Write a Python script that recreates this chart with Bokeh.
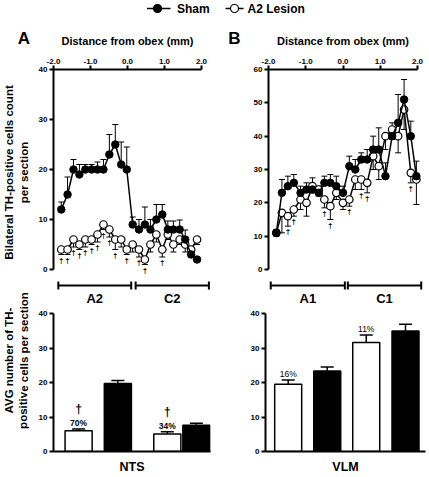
from bokeh.plotting import figure
from bokeh.layouts import column, row
from bokeh.models import (ColumnDataSource, Range1d, FixedTicker, NumeralTickFormatter,
                          Whisker, TeeHead)
from bokeh.core.properties import value
from bokeh.embed import file_html
from bokeh.resources import INLINE

# ---------------- data ----------------
# Panel A : NTS (A2 / C2)
a_distance_mm = [-1.79, -1.62, -1.46, -1.30, -1.14, -0.97, -0.81, -0.65, -0.49, -0.33, -0.17, -0.02,
                 0.14, 0.31, 0.47, 0.62, 0.78, 0.94, 1.09, 1.24, 1.41, 1.56, 1.72, 1.88]
a_sham = [12, 15, 20, 19, 20, 20, 20, 20, 23, 25, 21, 20, 9, 8, 9, 8, 10, 11, 8, 8, 8, 6, 3, 2]
a_sham_err = [1.5, 3.5, 2, 2, 1, 1, 1.5, 2, 4, 4, 4.5, 4.5, 1.5, 2, 3.5, 2, 3, 2, 1.7, 1.7, 1.9, 1.9, 1, 0.5]
a_lesion = [4, 4, 6, 5, 6, 6, 7, 9, 8, 6, 6, 4, 5, 4, 2, 5, 7, 4, 7, 5, 6, 5, 4, 6]
a_lesion_err = [1, 1, 1.5, 1, 1.5, 1, 1.5, 1, 1.5, 2, 1.5, 1, 1.5, 1.5, 1, 1.5, 1.5, 1.5, 1, 1.5, 1, 1.5, 1, 1]
a_dagger_idx = [0, 1, 2, 3, 4, 5, 6, 7, 8, 9, 11, 13, 14, 17]
a_regions = ["A2", "C2"]
a_region_start = [-1.87, 0.22]
a_region_end = [0.10, 2.20]

# Panel B : VLM (A1 / C1)
b_distance_mm = [-1.79, -1.64, -1.48, -1.32, -1.14, -0.98, -0.82, -0.65, -0.50, -0.34, -0.18, 0.00,
                 0.17, 0.33, 0.49, 0.65, 0.81, 0.96, 1.14, 1.32, 1.48, 1.64, 1.82, 1.97]
b_sham = [11, 23, 25, 26, 23, 24, 24, 23, 26, 26, 25, 23, 31, 30, 33, 33, 36, 36, 28, 40, 44, 51, 40, 28]
b_sham_err = [1, 4, 3, 2.5, 2, 2, 3.5, 2, 2, 2.5, 3, 2, 3, 3, 2, 3, 4, 6.5, 4, 4, 8.5, 6, 4.5, 4.5]
b_lesion = [11, 17, 16, 18, 21, 20, 25, 24, 21, 19, 23, 20, 21, 27, 27, 26, 34, 31, 40, 42, 40, 48, 29, 27]
b_lesion_err = [1, 6, 3, 2, 3, 4, 2, 2, 2.5, 4, 2, 2, 2, 3, 3, 3, 4, 4, 4, 3, 5, 6, 3, 7.5]
b_dagger_idx = [2, 3, 8, 9, 12, 14, 15, 22]
b_regions = ["A1", "C1"]
b_region_start = [-1.94, 0.13]
b_region_end = [0.05, 2.10]

# Bar charts
nts_regions = ["A2", "C2"]
nts_lesion = [6.0, 5.1]
nts_lesion_err = [0.5, 0.6]
nts_sham = [19.7, 7.6]
nts_sham_err = [0.9, 0.6]
nts_loss_pct = ["70%", "34%"]
nts_signif = ["\u2020", "\u2020"]

vlm_regions = ["A1", "C1"]
vlm_lesion = [19.5, 31.6]
vlm_lesion_err = [1.2, 2.2]
vlm_sham = [23.3, 34.9]
vlm_sham_err = [1.2, 2.0]
vlm_loss_pct = ["16%", "11%"]
vlm_signif = ["", ""]

legend_labels = ["Sham", "A2 Lesion"]
panel_letters = ["A", "B"]
x_title = "Distance from obex (mm)"
top_ylabel = ["Bilateral TH-positive cells count", "per section"]
bot_ylabel = ["AVG number of TH-", "positive cells per section"]

FONT = "Liberation Sans"

# ---------------- layout (page pixels) ----------------
W_TOTAL, H_TOTAL = 428, 476
HEAD_H = 48
TOP_TOP, TOP_FRAME_TOP, TOP_ZERO, TOP_BOTTOM = 48, 69, 269, 305
BOT_TOP, BOT_FRAME_TOP, BOT_ZERO, BOT_BOTTOM = 305, 313, 454, 476
YLAB_W = 31
COL_A = (YLAB_W, 222)
COL_B = (222, W_TOTAL)


def clean(p):
    p.xgrid.visible = False
    p.ygrid.visible = False
    p.outline_line_color = None
    p.background_fill_color = "white"
    p.border_fill_color = "white"


def style_axis(ax):
    ax.axis_line_width = 2
    ax.axis_line_color = "black"
    ax.major_tick_line_width = 2
    ax.major_tick_line_color = "black"
    ax.major_tick_out = 4
    ax.major_tick_in = 0
    ax.minor_tick_out = 0
    ax.minor_tick_in = 0
    ax.major_label_text_font = FONT
    ax.major_label_text_font_style = "bold"
    ax.major_label_text_font_size = "8px"
    ax.major_label_text_color = "black"
    ax.major_label_standoff = 2


def txt(p, xs, ys, texts, size, align="center", angle=0.0, style="bold"):
    p.text(x=xs, y=ys, text=texts, angle=angle, text_align=align, text_baseline="middle",
           text_font=value(FONT), text_font_size=size, text_font_style=style,
           text_color="black")


def line_panel(col, frame_left, frame_right, px_per_mm, ymax,
               dist, sham, sham_err, lesion, lesion_err, dagger_idx,
               regions, reg_start, reg_end):
    c0, c1 = col
    ppu = (TOP_ZERO - TOP_FRAME_TOP) / ymax
    x_end = -2 + (frame_right - frame_left) / px_per_mm
    y_lo = -(TOP_BOTTOM - TOP_ZERO) / ppu

    def yd(ay):
        return (TOP_ZERO - ay) / ppu

    p = figure(width=c1 - c0, height=TOP_BOTTOM - TOP_TOP,
               x_range=Range1d(-2, x_end), y_range=Range1d(y_lo, ymax),
               x_axis_location="above", toolbar_location=None, output_backend="svg",
               min_border_left=frame_left - c0, min_border_right=c1 - frame_right,
               min_border_top=TOP_FRAME_TOP - TOP_TOP, min_border_bottom=0)
    clean(p)
    for ax in p.axis:
        style_axis(ax)
    p.xaxis.bounds = (-2, 2)
    p.xaxis.ticker = FixedTicker(ticks=[-2, -1, 0, 1, 2])
    p.xaxis.formatter = NumeralTickFormatter(format="0.0")
    p.yaxis.bounds = (0, ymax)
    p.yaxis.ticker = FixedTicker(ticks=list(range(0, ymax + 1, 10)))

    les = ColumnDataSource(dict(x=dist, y=lesion,
                                lo=[v - e for v, e in zip(lesion, lesion_err)]))
    sh = ColumnDataSource(dict(x=dist, y=sham,
                               hi=[v + e for v, e in zip(sham, sham_err)]))
    p.add_layout(Whisker(source=les, base="x", upper="y", lower="lo", line_width=1,
                         line_color="black", upper_head=None,
                         lower_head=TeeHead(size=6, line_width=1, line_color="black")))
    p.add_layout(Whisker(source=sh, base="x", upper="hi", lower="y", line_width=1,
                         line_color="black", lower_head=None,
                         upper_head=TeeHead(size=6, line_width=1, line_color="black")))
    p.line("x", "y", source=les, line_color="black", line_width=1.5)
    p.scatter("x", "y", source=les, size=7.5, fill_color="white", line_color="black",
              line_width=1.2)
    p.line("x", "y", source=sh, line_color="black", line_width=1.5)
    p.scatter("x", "y", source=sh, size=7.5, fill_color="black", line_color="black")

    p.text(x=[dist[i] for i in dagger_idx],
           y=[lesion[i] - lesion_err[i] for i in dagger_idx],
           text=["\u2020"] * len(dagger_idx), text_baseline="top", text_align="center",
           y_offset=1, text_font=value(FONT), text_font_size="8px",
           text_font_style="bold", text_color="black")

    # region brackets under the plot
    yb = yd(285)
    tick = 4 / ppu
    n = len(regions)
    p.segment(x0=reg_start, y0=[yb] * n, x1=reg_end, y1=[yb] * n,
              line_color="black", line_width=2)
    ends = list(reg_start) + list(reg_end)
    p.segment(x0=ends, y0=[yb - tick] * len(ends), x1=ends, y1=[yb + tick] * len(ends),
              line_color="black", line_width=2)
    txt(p, [(s + e) / 2 for s, e in zip(reg_start, reg_end)], [yd(297.5)] * n, regions, "13px")
    return p


def bar_panel(col, frame_left, frame_right, slots, bar_w, xlabel,
              lesion, lesion_err, sham, sham_err, pct, signif, pct_style):
    c0, c1 = col
    p = figure(width=c1 - c0, height=BOT_BOTTOM - BOT_TOP,
               x_range=Range1d(0, 4), y_range=Range1d(0, 40),
               toolbar_location=None, output_backend="svg",
               min_border_left=frame_left - c0, min_border_right=c1 - frame_right,
               min_border_top=BOT_FRAME_TOP - BOT_TOP, min_border_bottom=BOT_BOTTOM - BOT_ZERO)
    clean(p)
    for ax in p.axis:
        style_axis(ax)
    p.yaxis.ticker = FixedTicker(ticks=[0, 10, 20, 30, 40])
    p.xaxis.ticker = FixedTicker(ticks=[])
    p.xaxis.major_tick_out = 0
    p.xaxis.axis_label = xlabel
    p.xaxis.axis_label_text_font = FONT
    p.xaxis.axis_label_text_font_style = "bold"
    p.xaxis.axis_label_text_font_size = "12.5px"
    p.xaxis.axis_label_text_color = "black"
    p.xaxis.axis_label_standoff = 8

    les_x = [slots[0], slots[2]]
    sh_x = [slots[1], slots[3]]
    les = ColumnDataSource(dict(x=les_x, top=lesion,
                                hi=[v + e for v, e in zip(lesion, lesion_err)],
                                pct=pct, sig=signif))
    sh = ColumnDataSource(dict(x=sh_x, top=sham,
                               hi=[v + e for v, e in zip(sham, sham_err)]))
    for src in (les, sh):
        p.add_layout(Whisker(source=src, base="x", upper="hi", lower="top", line_width=1.5,
                             line_color="black", lower_head=None,
                             upper_head=TeeHead(size=13, line_width=1.5, line_color="black")))
    p.vbar(x="x", top="top", bottom=0, width=bar_w, source=les, fill_color="white",
           line_color="black", line_width=1.5)
    p.vbar(x="x", top="top", bottom=0, width=bar_w, source=sh, fill_color="black",
           line_color="black", line_width=1.5)
    p.text(x="x", y="hi", text="pct", source=les, text_align="center",
           text_baseline="bottom", y_offset=-1, text_font=value(FONT),
           text_font_size="8.5px", text_font_style=pct_style, text_color="black")
    p.text(x="x", y="hi", text="sig", source=les, text_align="center",
           text_baseline="bottom", y_offset=-13, text_font=value(FONT),
           text_font_size="12px", text_font_style="bold", text_color="black")
    return p


# ---------------- header: legend, panel letters, x-axis titles ----------------
head = figure(width=W_TOTAL, height=HEAD_H, toolbar_location=None, output_backend="svg",
              x_range=Range1d(0, W_TOTAL), y_range=Range1d(0, HEAD_H), min_border=0)
clean(head)
head.axis.visible = False


def hy(ay):
    return HEAD_H - ay


# legend keys
head.segment(x0=[146.5, 225], y0=[hy(8)] * 2, x1=[170, 243], y1=[hy(8)] * 2,
             line_color="black", line_width=1.5)
head.scatter(x=[157, 234], y=[hy(8)] * 2, size=8, fill_color=["black", "white"],
             line_color="black", line_width=1.2)
txt(head, [176.5, 247], [hy(8)] * 2, legend_labels, "12px", align="left")
txt(head, [23.5, 234], [hy(38)] * 2, panel_letters, "17px")
txt(head, [127, 342.5], [hy(40.5)] * 2, [x_title, x_title], "11px")

# ---------------- y-axis titles column ----------------
ylab = figure(width=YLAB_W, height=H_TOTAL - HEAD_H, toolbar_location=None,
              output_backend="svg", x_range=Range1d(0, YLAB_W),
              y_range=Range1d(0, H_TOTAL - HEAD_H), min_border=0)
clean(ylab)
ylab.axis.visible = False


def ly(ay):
    return H_TOTAL - ay


txt(ylab, [8.5, 23], [ly(172)] * 2, top_ylabel, "11.5px", angle=1.5707963)
txt(ylab, [8.5, 23], [ly(360)] * 2, bot_ylabel, "11.5px", angle=1.5707963)

# ---------------- panels ----------------
top_a = line_panel(COL_A, 53, 212, 37.0, 40, a_distance_mm, a_sham, a_sham_err,
                   a_lesion, a_lesion_err, a_dagger_idx, a_regions, a_region_start,
                   a_region_end)
top_b = line_panel(COL_B, 268, 423, 37.25, 60, b_distance_mm, b_sham, b_sham_err,
                   b_lesion, b_lesion_err, b_dagger_idx, b_regions, b_region_start,
                   b_region_end)
bot_a = bar_panel(COL_A, 53, 210, [0.64, 1.64, 2.9, 3.64], 0.69, "NTS",
                  nts_lesion, nts_lesion_err, nts_sham, nts_sham_err, nts_loss_pct,
                  nts_signif, "bold")
bot_b = bar_panel(COL_B, 265, 425, [0.567, 1.543, 2.518, 3.5], 0.675, "VLM",
                  vlm_lesion, vlm_lesion_err, vlm_sham, vlm_sham_err, vlm_loss_pct,
                  vlm_signif, "normal")

page = column(head, row(ylab, column(row(top_a, top_b), row(bot_a, bot_b))))
open("out.html", "w").write(file_html(page, INLINE))
